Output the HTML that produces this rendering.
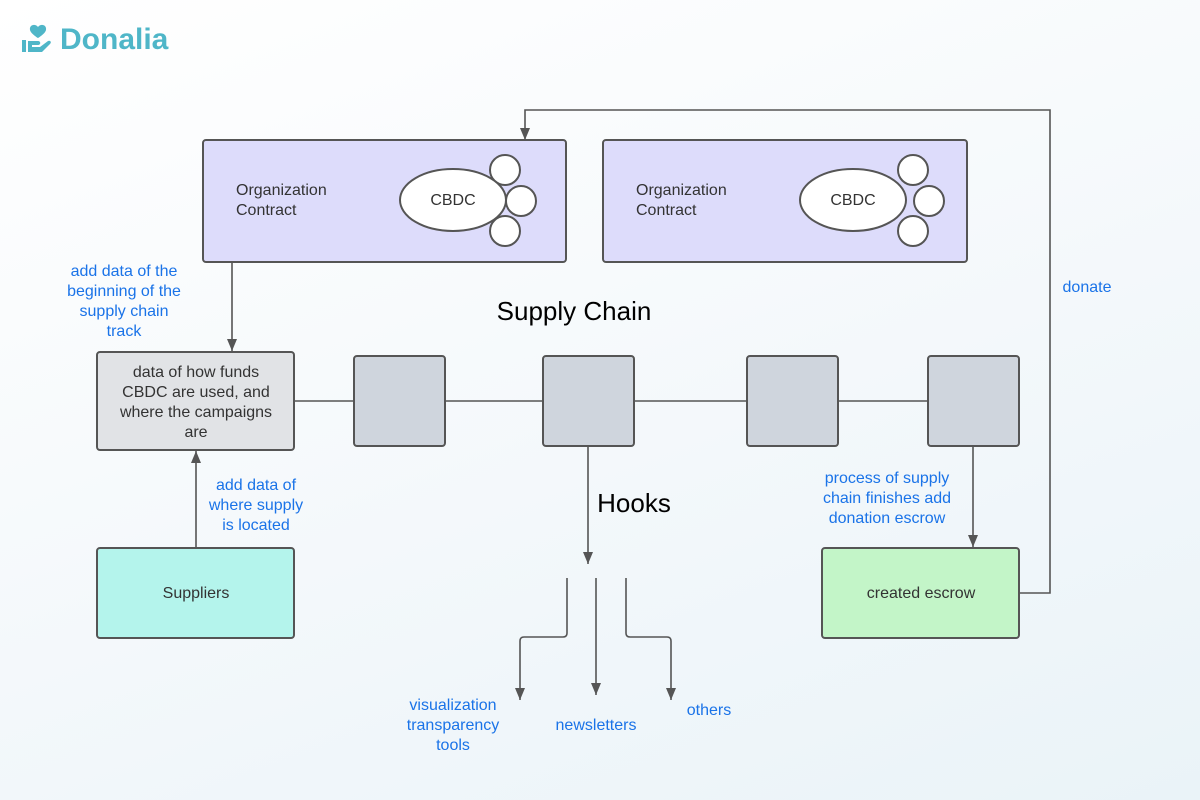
<!DOCTYPE html>
<html><head><style>
html,body{margin:0;padding:0}
body{width:1200px;height:800px;overflow:hidden;background:linear-gradient(160deg,#ffffff 0%,#f7fafc 40%,#eaf3f8 100%);font-family:"Liberation Sans",sans-serif}
</style></head><body>
<svg width="1200" height="800" xmlns="http://www.w3.org/2000/svg" style="position:absolute;left:0;top:0">
<defs><marker id="a" markerWidth="14" markerHeight="12" refX="12" refY="5" orient="auto" markerUnits="userSpaceOnUse"><path d="M0,0 L12,5 L0,10 z" fill="#555"/></marker></defs>
<g font-family="Liberation Sans, sans-serif">
<g fill="#4fb6c8">
<path d="M38 27 c-3-4-9-2-8 3 c1 4 8 8 8 8 s7-4 8-8 c1-5-5-7-8-3z"/>
<rect x="22" y="40" width="4" height="12"/>
<path d="M28 41 h10 c3 0 3 4 0 4 h-6 v2 h8 l8-6 c2-1 4 1 2 3 l-8 8 h-14z"/>
<text x="60" y="49" font-size="30" font-weight="bold" fill="#4fb6c8">Donalia</text>
</g>
<rect x="203" y="140" width="363" height="122" rx="3" fill="#dddcfb" stroke="#555" stroke-width="2"/>
<rect x="603" y="140" width="364" height="122" rx="3" fill="#dddcfb" stroke="#555" stroke-width="2"/>
<g fill="#333" font-size="16">
<text x="236" y="195">Organization</text><text x="236" y="215">Contract</text>
<text x="636" y="195">Organization</text><text x="636" y="215">Contract</text>
</g>
<g fill="#fff" stroke="#555" stroke-width="2">
<circle cx="505" cy="170" r="15"/><circle cx="521" cy="201" r="15"/><circle cx="505" cy="231" r="15"/>
<ellipse cx="453" cy="200" rx="53" ry="31"/>
<circle cx="913" cy="170" r="15"/><circle cx="929" cy="201" r="15"/><circle cx="913" cy="231" r="15"/>
<ellipse cx="853" cy="200" rx="53" ry="31"/>
</g>
<g fill="#333" font-size="16" text-anchor="middle">
<text x="453" y="205">CBDC</text><text x="853" y="205">CBDC</text>
</g>
<g stroke="#555" stroke-width="1.6" fill="none">
<path d="M1020 593 H1050 V110 H525 V140" marker-end="url(#a)"/>
<path d="M232 262 V351" marker-end="url(#a)"/>
<path d="M196 548 V451" marker-end="url(#a)"/>
<path d="M294 401 H928"/>
<path d="M588 446 V564" marker-end="url(#a)"/>
<path d="M973 446 V547" marker-end="url(#a)"/>
<path d="M567 578 V633 q0 4 -4 4 H524 q-4 0 -4 4 V700" marker-end="url(#a)"/>
<path d="M596 578 V695" marker-end="url(#a)"/>
<path d="M626 578 V633 q0 4 4 4 H667 q4 0 4 4 V700" marker-end="url(#a)"/>
</g>
<rect x="97" y="352" width="197" height="98" rx="3" fill="#e1e3e6" stroke="#555" stroke-width="2"/>
<g fill="#cfd5dd" stroke="#555" stroke-width="2">
<rect x="354" y="356" width="91" height="90" rx="3"/>
<rect x="543" y="356" width="91" height="90" rx="3"/>
<rect x="747" y="356" width="91" height="90" rx="3"/>
<rect x="928" y="356" width="91" height="90" rx="3"/>
</g>
<rect x="97" y="548" width="197" height="90" rx="3" fill="#b4f4ec" stroke="#555" stroke-width="2"/>
<rect x="822" y="548" width="197" height="90" rx="3" fill="#c3f5c8" stroke="#555" stroke-width="2"/>
<g fill="#333" font-size="16" text-anchor="middle">
<text x="196" y="377">data of how funds</text>
<text x="196" y="397">CBDC are used, and</text>
<text x="196" y="417">where the campaigns</text>
<text x="196" y="437">are</text>
<text x="196" y="598">Suppliers</text>
<text x="921" y="598">created escrow</text>
</g>
<g fill="#000" font-size="26" text-anchor="middle">
<text x="574" y="320">Supply Chain</text>
<text x="634" y="512">Hooks</text>
</g>
<g fill="#1a73e8" font-size="16" text-anchor="middle">
<text x="124" y="276">add data of the</text>
<text x="124" y="296">beginning of the</text>
<text x="124" y="316">supply chain</text>
<text x="124" y="336">track</text>
<text x="256" y="490">add data of</text>
<text x="256" y="510">where supply</text>
<text x="256" y="530">is located</text>
<text x="887" y="483">process of supply</text>
<text x="887" y="503">chain finishes add</text>
<text x="887" y="523">donation escrow</text>
<text x="1087" y="292">donate</text>
<text x="453" y="710">visualization</text>
<text x="453" y="730">transparency</text>
<text x="453" y="750">tools</text>
<text x="596" y="730">newsletters</text>
<text x="709" y="715">others</text>
</g>
</g>
</svg>
</body></html>
